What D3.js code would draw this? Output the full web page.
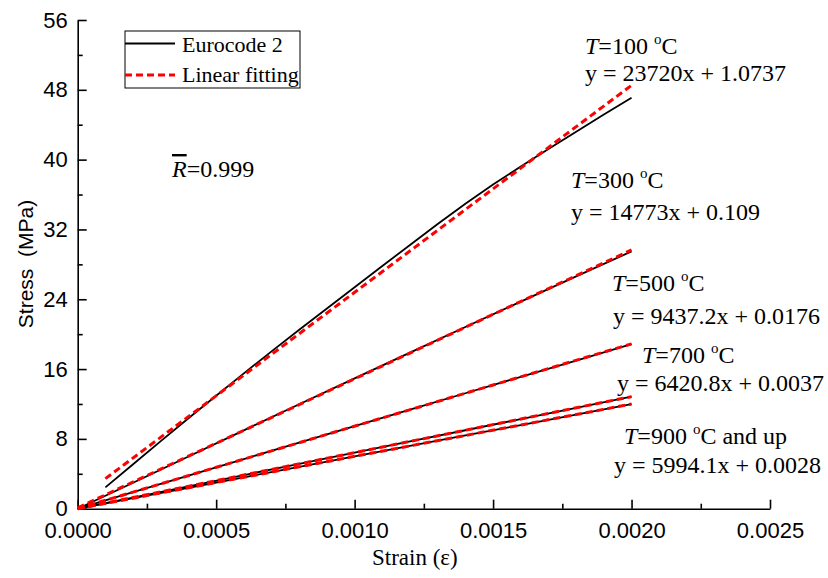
<!DOCTYPE html>
<html>
<head>
<meta charset="utf-8">
<script src="https://cdn.jsdelivr.net/npm/d3@7/dist/d3.min.js"></script>
<style>
  html, body { margin: 0; padding: 0; background: #fff; }
  svg { display: block; }
  .serif { font-family: "Liberation Serif", "Times New Roman", serif; }
  .sans { font-family: "Liberation Sans", Arial, sans-serif; }
</style>
</head>
<body>
<svg id="chart" width="828" height="578"></svg>
<script>
// Strain samples (ε) for the Eurocode 2 curves
const strain100 = [0.0001, 0.0002, 0.0003, 0.0004, 0.0005, 0.0006, 0.0007, 0.0008, 0.0009, 0.0010,
                   0.0011, 0.0012, 0.0013, 0.0014, 0.0015, 0.0016, 0.0017, 0.0018, 0.0019, 0.0020];
const strainHigh = [0, 0.0002, 0.0004, 0.0006, 0.0008, 0.0010, 0.0012, 0.0014, 0.0016, 0.0018, 0.0020];

// Eurocode 2 stress (MPa) at each strain sample
const ec100 = [2.45, 5.10, 7.74, 10.36, 12.95, 15.51, 18.03, 20.50, 22.94, 25.37,
               27.81, 30.22, 32.63, 34.95, 37.15, 39.21, 41.22, 43.20, 45.16, 47.08];
const ec300 = [0, 2.98, 5.98, 8.98, 11.97, 14.94, 17.89, 20.82, 23.73, 26.62, 29.48];
const ec500 = [0, 1.89, 3.79, 5.69, 7.58, 9.47, 11.35, 13.23, 15.11, 16.98, 18.86];
const ec700 = [0, 1.28, 2.57, 3.86, 5.14, 6.43, 7.71, 8.99, 10.27, 11.55, 12.83];
const ec900 = [0, 1.20, 2.40, 3.60, 4.80, 6.00, 7.20, 8.39, 9.59, 10.78, 11.97];

// Linear fits y = a·x + b and the strain range each one spans
const temperatures = ["100", "300", "500", "700", "900"];
const fitSlopes = [23720, 14773, 9437.2, 6420.8, 5994.1];
const fitIntercepts = [1.0737, 0.109, 0.0176, 0.0037, 0.0028];
const fitStart = [0.0001, 0, 0, 0, 0];
const fitEnd = [0.0020, 0.0020, 0.0020, 0.0020, 0.0020];
const fitLabels = ["y = 23720x + 1.0737", "y = 14773x + 0.109", "y = 9437.2x + 0.0176",
                   "y = 6420.8x + 0.0037", "y = 5994.1x + 0.0028"];
const tempSuffix = ["", "", "", "", " and up"];

// Axis ticks
const xTicks = [0, 0.0005, 0.0010, 0.0015, 0.0020, 0.0025];
const xMinorTicks = [0.00025, 0.00075, 0.00125, 0.00175, 0.00225];
const yTicks = [0, 8, 16, 24, 32, 40, 48, 56];
const yMinorTicks = [4, 12, 20, 28, 36, 44, 52];

const svg = d3.select("#chart");
const x = d3.scaleLinear().domain([0, 0.0025]).range([77.7, 770]);
const y = d3.scaleLinear().domain([0, 56]).range([508.7, 20]);

// Axes with inward ticks
svg.append("g").attr("transform", `translate(0,${y(0)})`)
  .call(d3.axisBottom(x).tickValues(xTicks).tickFormat(d3.format(".4f"))
    .tickSizeInner(-9).tickSizeOuter(0).tickPadding(14));
svg.append("g").attr("transform", `translate(0,${y(0)})`)
  .call(d3.axisBottom(x).tickValues(xMinorTicks).tickFormat("").tickSizeInner(-5).tickSizeOuter(0))
  .select(".domain").remove();
svg.append("g").attr("transform", `translate(${x(0)},0)`)
  .call(d3.axisLeft(y).tickValues(yTicks).tickFormat(d3.format("d"))
    .tickSizeInner(-9).tickSizeOuter(0).tickPadding(10));
svg.append("g").attr("transform", `translate(${x(0)},0)`)
  .call(d3.axisLeft(y).tickValues(yMinorTicks).tickFormat("").tickSizeInner(-5).tickSizeOuter(0))
  .select(".domain").remove();

svg.selectAll(".domain, .tick line").attr("stroke", "#000").attr("stroke-width", 1.6);
svg.selectAll(".tick text").attr("font-size", 22).attr("fill", "#000")
  .style("font-family", "'Liberation Sans', Arial, sans-serif");

// Axis titles
svg.append("text").attr("class", "serif").attr("x", 372).attr("y", 565)
  .attr("font-size", 23).text("Strain (ε)");
svg.append("text").attr("class", "sans")
  .attr("transform", "translate(33,264) rotate(-90)")
  .attr("text-anchor", "middle").attr("font-size", 21)
  .style("white-space", "pre").text("Stress  (MPa)");

// Eurocode 2 curves
const line = d3.line().x(d => x(d[0])).y(d => y(d[1]));
const curves = [
  d3.zip(strain100, ec100),
  d3.zip(strainHigh, ec300),
  d3.zip(strainHigh, ec500),
  d3.zip(strainHigh, ec700),
  d3.zip(strainHigh, ec900)
];
svg.append("g").selectAll("path").data(curves).join("path")
  .attr("d", line).attr("fill", "none").attr("stroke", "#000").attr("stroke-width", 1.8);

// Linear fitting lines (dashed red), drawn on top
const fits = temperatures.map((t, i) => [fitStart[i], fitEnd[i]]
  .map(e => [e, fitSlopes[i] * e + fitIntercepts[i]]));
svg.append("g").selectAll("path").data(fits).join("path")
  .attr("d", line).attr("fill", "none").attr("stroke", "#ff0000")
  .attr("stroke-width", 3).attr("stroke-dasharray", "7,4");

// Temperature and equation annotations
const labelPos = [
  { tx: 585, ty: 54, ex: 585, ey: 81 },
  { tx: 571, ty: 188, ex: 571, ey: 220 },
  { tx: 612, ty: 291, ex: 613, ey: 324 },
  { tx: 642, ty: 363, ex: 617, ey: 391 },
  { tx: 624, ty: 444, ex: 614, ey: 473 }
];
temperatures.forEach((t, i) => {
  const p = labelPos[i];
  const tt = svg.append("text").attr("class", "serif").attr("x", p.tx).attr("y", p.ty).attr("font-size", 24);
  tt.append("tspan").attr("font-style", "italic").text("T");
  tt.append("tspan").text("=" + t + " ");
  tt.append("tspan").attr("font-size", 15).attr("dy", -10).text("o");
  tt.append("tspan").attr("dy", 10).text("C" + tempSuffix[i]);
  svg.append("text").attr("class", "serif").attr("x", p.ex).attr("y", p.ey)
    .attr("font-size", 24).text(fitLabels[i]);
});

// Mean correlation coefficient
const rt = svg.append("text").attr("class", "serif").attr("x", 172).attr("y", 177).attr("font-size", 24);
rt.append("tspan").attr("font-style", "italic").style("text-decoration", "overline").text("R");
rt.append("tspan").text("=0.999");

// Legend
const lg = svg.append("g");
lg.append("rect").attr("x", 125).attr("y", 31).attr("width", 175).attr("height", 57)
  .attr("fill", "#fff").attr("stroke", "#000").attr("stroke-width", 1);
lg.append("line").attr("x1", 125).attr("x2", 175).attr("y1", 43.5).attr("y2", 43.5)
  .attr("stroke", "#000").attr("stroke-width", 1.8);
lg.append("line").attr("x1", 125).attr("x2", 175).attr("y1", 75).attr("y2", 75)
  .attr("stroke", "#ff0000").attr("stroke-width", 3).attr("stroke-dasharray", "7,4");
lg.append("text").attr("class", "serif").attr("x", 182).attr("y", 52).attr("font-size", 22).text("Eurocode 2");
lg.append("text").attr("class", "serif").attr("x", 182).attr("y", 82).attr("font-size", 22).text("Linear fitting");
</script>
</body>
</html>
